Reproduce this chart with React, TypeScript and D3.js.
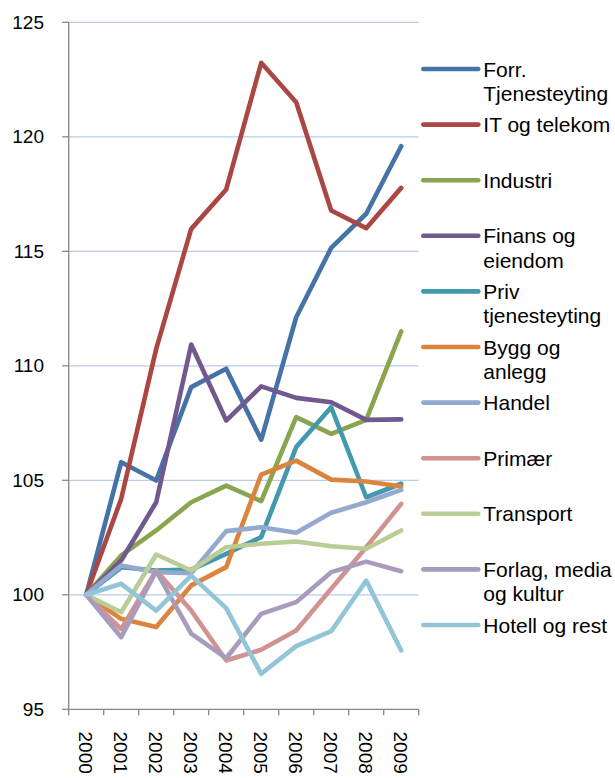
import React from "react";
import * as d3 from "d3";

const years = ["2000", "2001", "2002", "2003", "2004", "2005", "2006", "2007", "2008", "2009"];
const yTicks = [95, 100, 105, 110, 115, 120, 125];

const forr = [100, 105.79, 104.99, 109.07, 109.87, 106.77, 112.12, 115.15, 116.64, 119.59];
const itTelekom = [100, 104.19, 110.74, 115.98, 117.7, 123.23, 121.51, 116.78, 116.01, 117.77];
const industri = [100, 101.72, 102.81, 104.04, 104.77, 104.09, 107.76, 107.03, 107.64, 111.5];
const finans = [100, 101.5, 104.04, 110.93, 107.61, 109.1, 108.6, 108.41, 107.64, 107.66];
const priv = [100, 101.2, 101.06, 101.1, 101.79, 102.52, 106.45, 108.19, 104.26, 104.85];
const bygg = [100, 98.95, 98.59, 100.41, 101.21, 105.25, 105.86, 105.03, 104.95, 104.73];
const handel = [100, 101.28, 100.99, 100.94, 102.78, 102.95, 102.71, 103.58, 104.04, 104.58];
const primaer = [100, 98.5, 101.06, 99.31, 97.13, 97.6, 98.44, 100.26, 102.08, 103.97];
const transport = [100, 99.24, 101.76, 101.06, 102.08, 102.23, 102.33, 102.12, 102.01, 102.81];
const forlag = [100, 98.15, 101.03, 98.3, 97.23, 99.17, 99.68, 100.99, 101.45, 101.03];
const hotell = [100, 100.48, 99.31, 100.84, 99.42, 96.55, 97.76, 98.41, 100.62, 97.57];

const seriesNames = [
  ["Forr.", "Tjenesteyting"],
  ["IT og telekom"],
  ["Industri"],
  ["Finans og", "eiendom"],
  ["Priv", "tjenesteyting"],
  ["Bygg og", "anlegg"],
  ["Handel"],
  ["Primær"],
  ["Transport"],
  ["Forlag, media", "og kultur"],
  ["Hotell og rest"],
];
const seriesValues = [forr, itTelekom, industri, finans, priv, bygg, handel, primaer, transport, forlag, hotell];
const colors = [
  "#4572A7", "#AA4643", "#89A54E", "#71588F", "#4198AF", "#DB843D",
  "#93A9CF", "#D19392", "#B9CD96", "#A99BBD", "#92C5D8",
];

const W = 615;
const H = 778;
const left = 68.7;
const right = 418.7;
const top = 22.3;
const bottom = 709.3;
const font = "Arial, 'Liberation Sans', sans-serif";

export default function App() {
  const x = d3.scaleBand<string>().domain(years).range([left, right]);
  const y = d3.scaleLinear().domain([95, 125]).range([bottom, top]);
  const cx = (yr: string) => (x(yr) as number) + x.bandwidth() / 2;
  const line = d3
    .line<number>()
    .x((_, i) => cx(years[i]))
    .y((v) => y(v));

  const boundaries = years.map((yr) => x(yr) as number).concat([right]);
  const legendX = 423.3;
  const legendY0 = 69;
  const legendStep = 55.6;

  return (
    <svg
      width={W}
      height={H}
      style={{ position: "absolute", left: 0, top: 0, background: "#fff" }}
      fontFamily={font}
    >
      {/* gridlines */}
      {yTicks.filter((t) => t !== 95).map((t) => (
        <line key={"g" + t} x1={left} x2={right} y1={y(t)} y2={y(t)} stroke="#B9CDE5" strokeWidth={1.3} />
      ))}
      {/* y axis */}
      <line x1={left} x2={left} y1={top} y2={bottom} stroke="#868686" strokeWidth={1.3} />
      {yTicks.map((t) => (
        <g key={"yt" + t}>
          <line x1={left - 6.5} x2={left} y1={y(t)} y2={y(t)} stroke="#868686" strokeWidth={1.3} />
          <text x={44} y={y(t)} textAnchor="end" dominantBaseline="central" fontSize={19} fill="#000">
            {t}
          </text>
        </g>
      ))}
      {/* x axis */}
      <line x1={left} x2={right} y1={bottom} y2={bottom} stroke="#868686" strokeWidth={1.3} />
      {boundaries.map((b, i) => (
        <line key={"xt" + i} x1={b} x2={b} y1={bottom} y2={bottom + 6} stroke="#868686" strokeWidth={1.3} />
      ))}
      {years.map((yr) => (
        <text
          key={"xl" + yr}
          transform={`translate(${cx(yr) - 0.5},${731.5}) rotate(90)`}
          textAnchor="start"
          dominantBaseline="central"
          fontSize={19}
          fill="#000"
        >
          {yr}
        </text>
      ))}
      {/* series */}
      {seriesValues.map((vals, i) => (
        <path
          key={"s" + i}
          d={line(vals) as string}
          fill="none"
          stroke={colors[i]}
          strokeWidth={4.6}
          strokeLinejoin="round"
          strokeLinecap="round"
        />
      ))}
      {/* legend */}
      {seriesNames.map((lines, i) => {
        const ly = legendY0 + i * legendStep;
        return (
          <g key={"l" + i}>
            <line x1={legendX} x2={legendX + 55} y1={ly} y2={ly} stroke={colors[i]} strokeWidth={4.6} strokeLinecap="round" />
            <text x={483.3} y={ly + 7.5} fontSize={21} fill="#000">
              {lines.map((t, j) => (
                <tspan key={j} x={483.3} dy={j === 0 ? 0 : 24.5}>
                  {t}
                </tspan>
              ))}
            </text>
          </g>
        );
      })}
    </svg>
  );
}
